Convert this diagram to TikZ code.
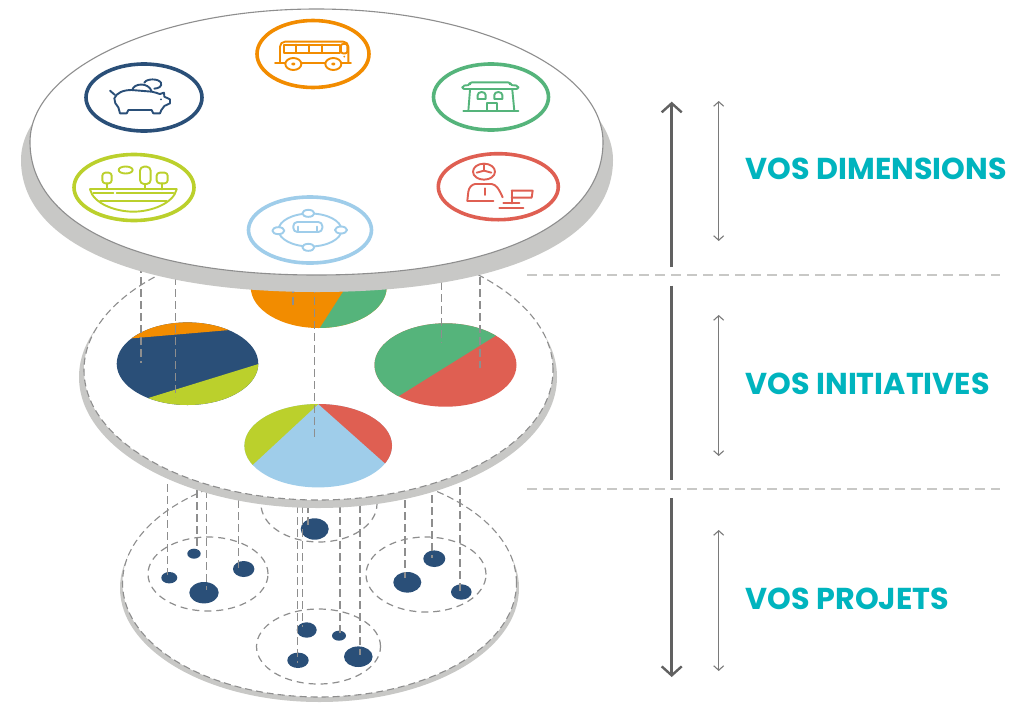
\documentclass[tikz,border=0pt]{standalone}
\usepackage{fontspec}
\newfontfamily\labfont{Poppins}
\usetikzlibrary{arrows.meta}
\definecolor{discgray}{HTML}{C8C8C6}
\definecolor{dashgray}{HTML}{8E8E8E}
\definecolor{cOrange}{HTML}{F28C00}
\definecolor{cGreen}{HTML}{55B47B}
\definecolor{cNavy}{HTML}{2A4F78}
\definecolor{cLime}{HTML}{BBD02C}
\definecolor{cRed}{HTML}{DF5F52}
\definecolor{cSky}{HTML}{9FCDEA}
\definecolor{cTeal}{HTML}{00B4BE}
\tikzset{
  x=1pt,y=-1pt,
  discback/.style={fill=discgray,draw=none},
  discface/.style={fill=white,draw=dashgray,line width=1.1pt,dash pattern=on 7pt off 4pt},
  topface/.style={fill=white,draw=dashgray,line width=1.1pt},
  groupring/.style={draw=dashgray,line width=1.2pt,dash pattern=on 7pt off 5pt},
  blob/.style={fill=cNavy,draw=none},
  drop/.style={draw=dashgray,line width=1.1pt,dash pattern=on 8pt off 4pt},
  iconring/.style={line width=3.6pt,fill=white},
  iconline/.style={line width=1.9pt,line join=round,line cap=round},
  sep/.style={draw=discgray,line width=2pt,dash pattern=on 10pt off 6pt},
  bigarrow/.style={draw=black!62,line width=2.6pt,-{Straight Barb[length=9pt,width=20pt,line width=2.4pt]}},
  thinarrow/.style={draw=black!52,line width=1.2pt,{Straight Barb[length=4.5pt,width=10pt,line width=1.1pt]}-{Straight Barb[length=4.5pt,width=10pt,line width=1.1pt]}},
  lab/.style={anchor=base west,inner sep=0pt,text=cTeal,font=\labfont\bfseries\fontsize{30.2}{30}\selectfont},
  icon/.style={shift={#1},x=.3333pt,y=-.3333pt}
}
\newcommand{\rad}[2]{[x radius=#1pt,y radius=#2pt]}
\begin{document}
\begin{tikzpicture}
\useasboundingbox (0,0) rectangle (1012,702);
\fill[white] (0,0) rectangle (1012,702);

% bottom disc
\fill[discback] (319.5,588) ellipse \rad{199.5}{114};
\path[discface] (319.5,583) ellipse \rad{197}{114};
\path[groupring] (208,574) ellipse \rad{60}{37};
\path[groupring] (426,574.5) ellipse \rad{60}{37.5};
\path[groupring] (318.5,646.5) ellipse \rad{62}{37.5};
\path[groupring] (319,504) ellipse \rad{58}{38};
\foreach \c/\a/\b in {{(169.3,577.7)}/8/5.7,{(194,553.7)}/6.7/5,{(204,592.7)}/14.7/10.7,{(243.7,569)}/10.7/8,
  {(314.7,529)}/14/10.7,{(434.3,558.7)}/11/8.3,{(407.3,582.3)}/14/10.3,{(461.3,592)}/10.3/7.7,
  {(306.7,630)}/10/7.7,{(339,635.7)}/7/5,{(298,660.3)}/10.7/7.7,{(358.3,656.7)}/14.3/10.3}
  {\fill[blob] \c ellipse [x radius=\a pt,y radius=\b pt];}
\foreach \x/\a/\b in {167.7/484/575,197/490/550,206.3/490/590,238.3/500/568,297.3/505/663,302.7/505/627,
  308/505/525,340/505/635,360/505/655,405/500/578,432/495/558,460/487/592}
  {\draw[drop] (\x,\a) -- (\x,\b);}

% middle disc
\fill[discback] (318,377) ellipse \rad{239}{131};
\path[discface] (318.5,370) ellipse \rad{234.5}{130};

% pies
\begin{scope}
  \clip (318.7,287) ellipse \rad{68}{41};
  \fill[cOrange] (240,240) rectangle (400,340);
  \fill[cGreen] (320,327.7) -- (375,242) -- (400,240) -- (400,340) -- (320,340) -- cycle;
\end{scope}
\begin{scope}
  \clip (187.5,363.7) ellipse \rad{70.8}{41.3};
  \fill[cNavy] (110,315) rectangle (265,410);
  \fill[cOrange] (110,340.2) -- (265,327) -- (265,315) -- (110,315) -- cycle;
  \fill[cLime] (110,410) -- (147.3,398.3) -- (265,362) -- (265,410) -- cycle;
\end{scope}
\begin{scope}
  \clip (445.5,365) ellipse \rad{71}{41.7};
  \fill[cRed] (370,320) rectangle (520,410);
  \fill[cGreen] (370,320) -- (520,320) -- (520,320.6) -- (370,414) -- cycle;
\end{scope}
\begin{scope}
  \clip (318.2,445.7) ellipse \rad{73.8}{41.7};
  \fill[cSky] (240,400) rectangle (395,490);
  \fill[cLime] (318.3,404) -- (240,476.6) -- (240,400) -- (318.3,400) -- cycle;
  \fill[cRed] (318.3,404) -- (395,472.2) -- (395,400) -- (318.3,400) -- cycle;
\end{scope}
\foreach \x/\a/\b in {141/265/363,175.7/265/397,293/285/308,314.3/285/438,441.3/270/343,480/265/368}
  {\draw[drop] (\x,\a) -- (\x,\b);}

% top disc
\fill[discback] (21,160) .. controls (21,241.8) and (133.5,292) .. (317,292) .. controls (500.5,292) and (613,241.8) .. (613,160) .. controls (613,87.1) and (480.5,28) .. (317,28) .. controls (153.5,28) and (21,87.1) .. (21,160) -- cycle;
\path[topface] (30,142) .. controls (30,224.5) and (138.9,275) .. (316.5,275) .. controls (494.1,275) and (603,224.5) .. (603,142) .. controls (603,68.5) and (474.7,9) .. (316.5,9) .. controls (158.3,9) and (30,68.5) .. (30,142) -- cycle;

% icon rings
\path[iconring,draw=cOrange] (313,54) ellipse \rad{56}{33.5};
\path[iconring,draw=cNavy] (144,97.5) ellipse \rad{58}{33.5};
\path[iconring,draw=cLime] (134,187.5) ellipse \rad{60}{33};
\path[iconring,draw=cSky] (310,230) ellipse \rad{61.5}{33};
\path[iconring,draw=cGreen] (491,97) ellipse \rad{57.5}{33};
\path[iconring,draw=cRed] (498.3,186.7) ellipse \rad{60}{33};

% bus
\begin{scope}[icon={(265,30)},iconline,draw=cOrange,color=cOrange]
  \draw[rounded corners=5pt] (45,98) -- (45,35) -- (250,35) -- (250,98);
  \draw (58,44) rectangle (225,68);
  \draw (92,44) -- (92,68) (132,44) -- (132,68) (170,44) -- (170,68);
  \draw[rounded corners=2pt] (228,42) rectangle (247,70);
  \draw (30,98) -- (258,98);
  \draw[fill=white] (85,102) ellipse \rad{8}{6};
  \draw[fill=white] (205,102) ellipse \rad{8}{6};
  \fill (85,102) ellipse \rad{2}{1.5};
  \fill (205,102) ellipse \rad{2}{1.5};
  \fill (238,80) circle (1pt);
\end{scope}

% piggy bank
\begin{scope}[icon={(105,70)},iconline,draw=cNavy]
  \draw (28,85) .. controls (35,68) and (55,60) .. (80,60) -- (140,65) .. controls (150,65) and (160,72) .. (165,72)
     -- (177,68) -- (178,80) -- (195,88) -- (195,100) -- (178,108) .. controls (172,118) and (165,122) .. (165,130)
     -- (145,130) -- (140,120) -- (70,120) -- (65,130) -- (45,130) -- (40,112) .. controls (32,105) and (28,95) .. (28,85) -- cycle;
  \draw (15,62) -- (30,75);
  \draw (82,60) .. controls (85,40) and (130,35) .. (140,64);
  \draw (118,38) .. controls (125,25) and (160,25) .. (168,38) .. controls (172,50) and (160,55) .. (148,56);
  \fill[cNavy] (168,88) circle (1pt);
\end{scope}

% people network
\begin{scope}[icon={(265,200)},iconline,draw=cSky]
  \draw (135,90) ellipse \rad{31.5}{16.5};
  \foreach \c in {(130,40),(40,92),(228,90),(130,142)}
    {\draw[fill=white] \c ellipse \rad{6}{3.5};}
  \draw[rounded corners=4pt] (85,96) -- (85,66) -- (172,66) -- (172,96) -- cycle;
  \draw (100,80) -- (100,92) (157,80) -- (157,92);
\end{scope}

% shop
\begin{scope}[icon={(455,75)},iconline,draw=cGreen]
  \draw[rounded corners=2pt] (22,42) -- (22,32) -- (45,30) -- (45,22) -- (165,22) -- (165,30) -- (190,32) -- (190,42) -- cycle;
  \draw (45,45) -- (40,108) (172,45) -- (178,108) (25,108) -- (190,108);
  \draw (68,72) -- (68,60) arc[start angle=180,end angle=0,x radius=4pt,y radius=3pt] -- (92,72) -- cycle;
  \draw (118,72) -- (118,60) arc[start angle=180,end angle=0,x radius=4pt,y radius=3pt] -- (142,72) -- cycle;
  \draw (95,108) -- (95,85) -- (125,85) -- (125,108);
\end{scope}

% person at desk
\begin{scope}[icon={(460,160)},iconline,draw=cRed]
  \draw (72,35) ellipse \rad{11}{8};
  \draw (72,14) -- (72,32) -- (50,38) (72,32) -- (94,38);
  \draw (22,122) -- (25,95) .. controls (27,82) and (35,74) .. (45,72) -- (95,72) .. controls (108,74) and (116,85) .. (128,112);
  \draw (22,122) -- (100,122);
  \draw (75,85) -- (75,105);
  \draw (155,92) -- (218,92) -- (215,113) -- (155,113);
  \draw (155,92) -- (155,130);
  \draw (130,130) -- (178,130);
  \draw (118,143) -- (190,143);
\end{scope}

% landscape
\begin{scope}[icon={(85,160)},iconline,draw=cLime]
  \draw[rounded corners=3pt] (52,70) -- (52,38) -- (80,38) -- (80,70) -- cycle;
  \draw (65,70) -- (65,87);
  \draw (122,30) ellipse \rad{7}{3.5};
  \draw[rounded corners=4pt] (165,72) -- (165,20) -- (197,20) -- (197,72) -- cycle;
  \draw (180,72) -- (180,87);
  \draw[rounded corners=3pt] (215,70) -- (215,38) -- (248,38) -- (248,70) -- cycle;
  \draw (230,70) -- (230,88);
  \draw (15,88) -- (275,88);
  \draw (15,88) .. controls (25,130) and (90,155) .. (145,155) .. controls (200,155) and (265,130) .. (275,88);
  \draw (25,100) -- (85,100) (95,100) -- (265,100);
  \draw (45,124) -- (245,124);
\end{scope}

% right side
\draw[sep] (527,275) -- (1000,275);
\draw[sep] (527,489) -- (1000,489);
\coordinate (aTop) at (671.7,101.7);
\coordinate (aGapA) at (671.7,267);
\coordinate (aGapB) at (671.7,285.5);
\coordinate (aGapC) at (671.7,480);
\coordinate (aGapD) at (671.7,498);
\coordinate (aEnd) at (671.7,677);
\draw[bigarrow] (aGapA) -- (aTop);
\draw[draw=black!62,line width=2.6pt] (aGapB) -- (aGapC);
\draw[bigarrow] (aGapD) -- (aEnd);
\coordinate (t1a) at (718.7,101);
\coordinate (t1b) at (718.7,241);
\coordinate (t2a) at (718.7,315);
\coordinate (t2b) at (718.7,456);
\coordinate (t3a) at (718.7,530);
\coordinate (t3b) at (718.7,671);
\draw[thinarrow] (t1a) -- (t1b);
\draw[thinarrow] (t2a) -- (t2b);
\draw[thinarrow] (t3a) -- (t3b);
\node[lab] (dim) at (745.5,179.5) {VOS DIMENSIONS};
\node[lab] (ini) at (745.5,394.5) {VOS INITIATIVES};
\node[lab] (pro) at (745.5,609.5) {VOS PROJETS};
\end{tikzpicture}
\end{document}
